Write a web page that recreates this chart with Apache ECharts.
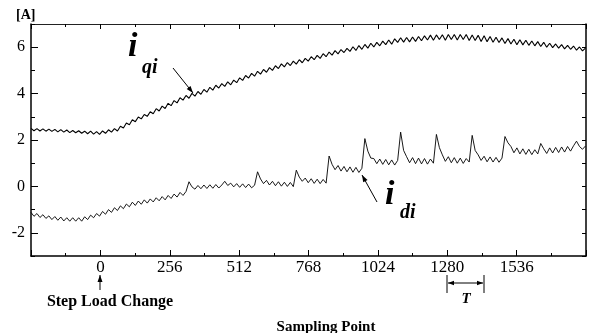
<!DOCTYPE html>
<html><head><meta charset="utf-8">
<script src="https://cdn.jsdelivr.net/npm/echarts@6/dist/echarts.min.js"></script>
<style>html,body{margin:0;padding:0;background:#fff}#c{width:589px;height:333px}</style>
</head><body><div id="c"></div>
<script>
// sampling: first sample index and spacing of the read-off points
const sampleStart = -256;
const sampleStep = 11;
const xTickLabels = [0, 256, 512, 768, 1024, 1280, 1536];
const yTickLabels = [-2, 0, 2, 4, 6];

// i_qi (upper trace)
const iqi = [
  2.50,2.40,2.49,2.39,2.48,2.38,2.47,2.37,2.46,2.35,
  2.45,2.34,2.43,2.32,2.41,2.31,2.40,2.29,2.38,2.27,
  2.38,2.25,2.36,2.24,2.39,2.29,2.44,2.34,2.49,2.39,
  2.59,2.52,2.73,2.66,2.87,2.79,2.99,2.91,3.10,3.02,
  3.22,3.13,3.35,3.25,3.46,3.36,3.58,3.48,3.70,3.60,
  3.82,3.72,3.92,3.80,4.01,3.89,4.09,3.97,4.18,4.06,
  4.27,4.15,4.36,4.24,4.43,4.31,4.51,4.38,4.58,4.47,
  4.68,4.57,4.78,4.67,4.87,4.75,4.96,4.84,5.04,4.92,
  5.12,5.00,5.20,5.08,5.28,5.15,5.34,5.21,5.40,5.27,
  5.46,5.33,5.52,5.40,5.59,5.46,5.65,5.52,5.72,5.59,
  5.79,5.66,5.85,5.71,5.90,5.77,5.95,5.82,6.02,5.86,
  6.07,5.91,6.12,5.96,6.17,6.01,6.21,6.06,6.26,6.11,
  6.31,6.13,6.36,6.21,6.41,6.22,6.42,6.23,6.44,6.25,
  6.46,6.28,6.49,6.31,6.52,6.30,6.53,6.33,6.54,6.30,
  6.55,6.33,6.55,6.31,6.55,6.33,6.55,6.29,6.53,6.29,
  6.51,6.25,6.49,6.24,6.46,6.21,6.43,6.20,6.40,6.16,
  6.37,6.14,6.34,6.11,6.32,6.10,6.30,6.08,6.27,6.06,
  6.24,6.03,6.21,6.00,6.17,5.98,6.14,5.96,6.11,5.93,
  6.08,5.91,6.05,5.87,6.01,5.84,5.96
];

// i_di (lower trace)
const idi = [
  -1.12,-1.29,-1.17,-1.34,-1.22,-1.38,-1.27,-1.43,-1.30,-1.46,
  -1.32,-1.49,-1.35,-1.50,-1.35,-1.50,-1.35,-1.50,-1.31,-1.43,
  -1.24,-1.35,-1.17,-1.28,-1.08,-1.20,-1.00,-1.12,-0.92,-1.04,
  -0.84,-0.96,-0.76,-0.88,-0.68,-0.82,-0.63,-0.77,-0.58,-0.72,
  -0.54,-0.67,-0.49,-0.62,-0.44,-0.58,-0.39,-0.52,-0.33,-0.46,
  -0.26,-0.39,-0.22,0.20,-0.02,-0.12,0.04,-0.10,0.06,-0.09,
  0.07,-0.08,0.08,-0.07,0.06,0.22,0.04,0.14,-0.02,0.12,
  -0.04,0.11,-0.05,0.10,-0.06,0.05,0.63,0.32,0.12,0.26,
  0.06,0.22,0.03,0.20,0.01,0.18,0.00,0.17,-0.01,0.70,
  0.40,0.22,0.36,0.16,0.33,0.13,0.31,0.12,0.30,0.14,
  1.31,0.95,0.72,0.90,0.66,0.86,0.63,0.84,0.61,0.82,
  0.60,0.78,2.06,1.52,1.22,1.20,0.98,1.18,0.95,1.16,
  0.93,1.14,0.92,1.12,2.34,1.55,1.28,1.02,1.24,0.98,
  1.22,0.97,1.20,0.96,1.18,1.00,2.24,1.67,1.36,1.08,
  1.28,1.02,1.24,1.00,1.22,0.99,1.20,1.05,2.20,1.55,
  1.36,1.12,1.30,1.06,1.27,1.05,1.25,1.04,1.22,2.15,
  1.88,1.72,1.45,1.66,1.40,1.62,1.38,1.60,1.37,1.58,
  1.40,1.85,1.62,1.42,1.66,1.44,1.68,1.46,1.70,1.48,
  1.72,1.52,1.75,1.95,1.72,1.60,1.74
];

const toPairs = arr => arr.map((v, k) => [sampleStart + k * sampleStep, v]);
const SERIF = "'Liberation Serif','Times New Roman',serif";

function arrowHead(tx, ty, fx, fy, len, half) {
  const dx = tx - fx, dy = ty - fy, L = Math.hypot(dx, dy);
  const ux = dx / L, uy = dy / L, px = -uy, py = ux;
  const bx = tx - ux * len, by = ty - uy * len;
  return { type: 'polygon', shape: { points: [[tx, ty], [bx + px * half, by + py * half], [bx - px * half, by - py * half]] }, style: { fill: '#000' } };
}
function arrow(fx, fy, tx, ty) {
  return [
    { type: 'line', shape: { x1: fx, y1: fy, x2: tx, y2: ty }, style: { stroke: '#000', lineWidth: 1 } },
    arrowHead(tx, ty, fx, fy, 7, 2.5)
  ];
}

const chart = echarts.init(document.getElementById('c'), null, { renderer: 'canvas' });
const axisBase = { type: 'value', min: -256, max: 1792, interval: 256, splitLine: { show: false } };
const yBase = { type: 'value', min: -3, max: 7, interval: 1, splitLine: { show: false } };
const lineBlack = { show: true, onZero: false, lineStyle: { color: '#000', width: 1.5 } };

const graphics = [].concat(
  [{ type: 'text', left: 16, top: 8, style: { text: '[A]', font: 'bold 14px ' + SERIF, fill: '#000' } }],
  // i_qi label
  [{ type: 'text', left: 128, top: 30, style: { text: 'i', font: 'italic bold 34px ' + SERIF, fill: '#000' } },
   { type: 'text', left: 142, top: 58, style: { text: 'qi', font: 'italic bold 20px ' + SERIF, fill: '#000' } }],
  arrow(173, 68, 193, 93),
  // i_di label
  [{ type: 'text', left: 385, top: 178, style: { text: 'i', font: 'italic bold 34px ' + SERIF, fill: '#000' } },
   { type: 'text', left: 400, top: 203, style: { text: 'di', font: 'italic bold 20px ' + SERIF, fill: '#000' } }],
  arrow(377, 202, 362, 175),
  // step load change
  arrow(100, 290, 100, 275),
  [{ type: 'text', x: 110, y: 302, style: { text: 'Step Load Change', font: 'bold 16px ' + SERIF, fill: '#000', align: 'center', verticalAlign: 'middle' } }],
  // period T
  [{ type: 'line', shape: { x1: 447, y1: 275, x2: 447, y2: 293 }, style: { stroke: '#000', lineWidth: 1 } },
   { type: 'line', shape: { x1: 484, y1: 275, x2: 484, y2: 293 }, style: { stroke: '#000', lineWidth: 1 } },
   { type: 'line', shape: { x1: 448, y1: 283, x2: 483, y2: 283 }, style: { stroke: '#000', lineWidth: 1 } },
   arrowHead(448, 283, 460, 283, 6, 2.2), arrowHead(483, 283, 470, 283, 6, 2.2),
   { type: 'text', x: 466, y: 299, style: { text: 'T', font: 'italic bold 15px ' + SERIF, fill: '#000', align: 'center', verticalAlign: 'middle' } }],
  [{ type: 'text', x: 326, y: 327, style: { text: 'Sampling Point', font: 'bold 15px ' + SERIF, fill: '#000', align: 'center', verticalAlign: 'middle' } }]
);

chart.setOption({
  animation: false,
  backgroundColor: '#fff',
  grid: { left: 31, right: 3, top: 24, bottom: 77, containLabel: false },
  xAxis: [
    Object.assign({}, axisBase, {
      position: 'bottom', axisLine: lineBlack,
      axisTick: { show: true, inside: true, length: 6, lineStyle: { color: '#000' } },
      minorTick: { show: true, splitNumber: 2, length: 3, lineStyle: { color: '#000' } },
      axisLabel: { margin: 3, color: '#000', fontFamily: SERIF, fontSize: 17,
        formatter: v => xTickLabels.indexOf(v) >= 0 ? String(v) : '' }
    }),
    Object.assign({}, axisBase, {
      position: 'top', axisLine: { show: true, onZero: false, lineStyle: { color: '#222', width: 1.2 } },
      axisTick: { show: true, inside: true, length: 5, lineStyle: { color: '#000' } },
      minorTick: { show: true, splitNumber: 2, length: 3, lineStyle: { color: '#000' } },
      axisLabel: { show: false }
    })
  ],
  yAxis: [
    Object.assign({}, yBase, {
      position: 'left', axisLine: lineBlack,
      axisTick: { show: true, inside: true, length: 4, lineStyle: { color: '#000' } },
      axisLabel: { margin: 6, color: '#000', fontFamily: SERIF, fontSize: 16,
        formatter: v => yTickLabels.indexOf(v) >= 0 ? String(v) : '' }
    }),
    Object.assign({}, yBase, {
      position: 'right', axisLine: lineBlack,
      axisTick: { show: true, inside: true, length: 4, lineStyle: { color: '#000' } },
      axisLabel: { show: false }
    }),
    Object.assign({}, yBase, {
      position: 'left', axisLine: { show: false, onZero: false },
      axisTick: { show: true, inside: true, length: 7, customValues: yTickLabels, lineStyle: { color: '#000' } },
      axisLabel: { show: false }
    })
  ],
  series: [
    { name: 'iqi', type: 'line', xAxisIndex: 0, yAxisIndex: 0, data: toPairs(iqi), showSymbol: false,
      lineStyle: { color: '#000', width: 1.1 }, silent: true },
    { name: 'idi', type: 'line', xAxisIndex: 0, yAxisIndex: 0, data: toPairs(idi), showSymbol: false,
      lineStyle: { color: '#000', width: 0.9 }, silent: true }
  ],
  graphic: graphics
});
</script>
</body></html>
